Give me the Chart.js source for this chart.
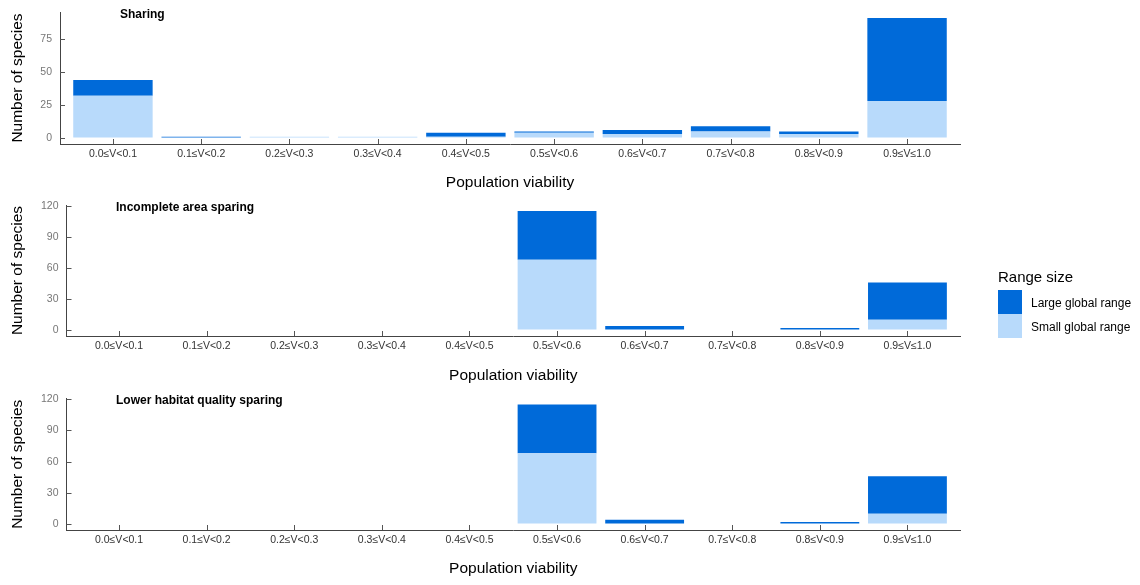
<!DOCTYPE html>
<html>
<head>
<meta charset="utf-8">
<script src="https://cdn.jsdelivr.net/npm/chart.js@4.4.1/dist/chart.umd.min.js"></script>
<style>
  html, body { margin: 0; padding: 0; background: #fff; }
  body { width: 1140px; height: 585px; position: relative; overflow: hidden;
         font-family: "Liberation Sans", Arial, sans-serif; }
  canvas { position: absolute; left: 0; }
  #legend { position: absolute; left: 0; top: 0; }
  #legend .lt { position: absolute; left: 998px; top: 268px; font-size: 15px; line-height: 18px; color: #000; white-space: nowrap; }
  #legend .key { position: absolute; left: 998px; width: 24px; height: 24px; }
  #legend .lab { position: absolute; left: 1031px; font-size: 12px; line-height: 24px; color: #000; white-space: nowrap; }
</style>
</head>
<body>
<canvas id="panel0" width="1140" height="193" style="top:0px"></canvas>
<canvas id="panel1" width="1140" height="195" style="top:193px"></canvas>
<canvas id="panel2" width="1140" height="197" style="top:388px"></canvas>
<div id="legend"></div>

<script>
// Population-viability classes shown along every x axis
const categories = ['0.0≤V<0.1', '0.1≤V<0.2', '0.2≤V<0.3', '0.3≤V<0.4', '0.4≤V<0.5',
                    '0.5≤V<0.6', '0.6≤V<0.7', '0.7≤V<0.8', '0.8≤V<0.9', '0.9≤V≤1.0'];

// Species counts per class, split by global range size
const sharingSmall    = [32, 0, 1, 1, 1, 4, 3, 5, 3, 28];
const sharingLarge    = [12, 1, 0, 0, 3, 1, 3, 4, 2, 63];
const incompleteSmall = [0, 0, 0, 0, 0, 68, 0, 0, 0, 10];
const incompleteLarge = [0, 0, 0, 0, 0, 47, 4, 0, 2, 36];
const lowerSmall      = [0, 0, 0, 0, 0, 68, 0, 0, 0, 10];
const lowerLarge      = [0, 0, 0, 0, 0, 47, 4, 0, 2, 36];

// y-axis tick labels
const sharingTicks = [0, 25, 50, 75];
const sparingTicks = [0, 30, 60, 90, 120];

const panelTitles = ['Sharing', 'Incomplete area sparing', 'Lower habitat quality sparing'];
const legendTitle = 'Range size';
const seriesNames = ['Small global range', 'Large global range'];
const xTitle = 'Population viability';
const yTitle = 'Number of species';

const COLORS = { small: '#b8dafb', large: '#006ad9' };
const FONT = '"Liberation Sans", Arial, sans-serif';

// per-panel canvas geometry
const panels = [
  { id: 'panel0', small: sharingSmall,    large: sharingLarge,    ticks: sharingTicks, padTop: 12,   xHeight: 49, yWidth: 60,   xTitlePad: 0.7, titleX: 120 },
  { id: 'panel1', small: incompleteSmall, large: incompleteLarge, ticks: sparingTicks, padTop: 12,   xHeight: 52, yWidth: 66.5, xTitlePad: 2.7, titleX: 116 },
  { id: 'panel2', small: lowerSmall,      large: lowerLarge,      ticks: sparingTicks, padTop: 10.5, xHeight: 55, yWidth: 66.5, xTitlePad: 6.7, titleX: 116 }
];

// bold panel title inside the top-left of the plotting area
const panelTitlePlugin = {
  id: 'panelTitle',
  afterDraw(chart, args, opts) {
    const { ctx, chartArea } = chart;
    ctx.save();
    ctx.font = 'bold 12px ' + FONT;
    ctx.fillStyle = '#000';
    ctx.textAlign = 'left';
    ctx.textBaseline = 'middle';
    ctx.fillText(opts.text, opts.x, chartArea.top + 2.5);
    ctx.restore();
  }
};

// short tick marks pointing into the plotting area
const innerTicksPlugin = {
  id: 'innerTicks',
  afterDraw(chart) {
    const { ctx, chartArea, scales } = chart;
    const len = 5;
    ctx.save();
    ctx.strokeStyle = '#555';
    ctx.lineWidth = 1;
    ctx.beginPath();
    scales.x.ticks.forEach(t => {
      const px = Math.round(scales.x.getPixelForValue(t.value)) + 0.5;
      ctx.moveTo(px, chartArea.bottom);
      ctx.lineTo(px, chartArea.bottom - len);
    });
    scales.y.ticks.forEach(t => {
      const py = Math.round(scales.y.getPixelForValue(t.value)) + 0.5;
      ctx.moveTo(chartArea.left, py);
      ctx.lineTo(chartArea.left + len, py);
    });
    ctx.stroke();
    ctx.restore();
  }
};

// keep tick-label overhang from shrinking the plotting area
const noOverhang = s => {
  s.paddingTop = 0; s.paddingBottom = 0; s.paddingLeft = 0; s.paddingRight = 0;
};

panels.forEach((p, k) => {
  const totals = p.small.map((v, i) => v + p.large[i]);
  const peak = Math.max(...totals);
  const toPoints = arr => arr.map((v, i) => ({ x: i, y: v }));

  new Chart(document.getElementById(p.id), {
    type: 'bar',
    data: {
      datasets: [
        { label: seriesNames[0], data: toPoints(p.small), backgroundColor: COLORS.small,
          borderWidth: 0, categoryPercentage: 1, barPercentage: 0.9 },
        { label: seriesNames[1], data: toPoints(p.large), backgroundColor: COLORS.large,
          borderWidth: 0, categoryPercentage: 1, barPercentage: 0.9 }
      ]
    },
    options: {
      responsive: false,
      animation: false,
      layout: { padding: { top: p.padTop, right: 180, bottom: 0, left: 0 } },
      plugins: {
        legend: { display: false },
        tooltip: { enabled: false },
        panelTitle: { text: panelTitles[k], x: p.titleX }
      },
      scales: {
        x: {
          type: 'linear',
          stacked: true,
          offset: false,
          min: -0.6,
          max: 9.6,
          afterBuildTicks: s => { s.ticks = categories.map((c, i) => ({ value: i })); },
          afterFit: s => { s.height = p.xHeight; noOverhang(s); },
          ticks: {
            callback: v => categories[v],
            autoSkip: false, maxRotation: 0, minRotation: 0,
            padding: 4,
            color: '#333',
            font: { family: FONT, size: 10.5 }
          },
          grid: { offset: false, drawOnChartArea: false, drawTicks: false },
          border: { display: true, color: '#444', width: 1 },
          title: { display: true, text: xTitle, color: '#000',
                   font: { family: FONT, size: 15.5 }, padding: { top: 0, bottom: p.xTitlePad } }
        },
        y: {
          stacked: true,
          min: -0.05 * peak,
          max: 1.05 * peak,
          afterBuildTicks: s => { s.ticks = p.ticks.map(v => ({ value: v })); },
          afterFit: s => { s.width = p.yWidth; noOverhang(s); },
          ticks: {
            padding: 8,
            color: '#777',
            font: { family: FONT, size: 10.5 }
          },
          grid: { drawOnChartArea: false, drawTicks: false },
          border: { display: true, color: '#444', width: 1 },
          title: { display: true, text: yTitle, color: '#000',
                   font: { family: FONT, size: 15.5 }, padding: { top: 8, bottom: 0 } }
        }
      }
    },
    plugins: [panelTitlePlugin, innerTicksPlugin]
  });
});

// legend for the range-size fill colours
(function buildLegend() {
  const box = document.getElementById('legend');
  const t = document.createElement('div');
  t.className = 'lt';
  t.textContent = legendTitle;
  box.appendChild(t);
  const entries = [
    { name: seriesNames[1], color: COLORS.large, top: 290 },
    { name: seriesNames[0], color: COLORS.small, top: 314 }
  ];
  entries.forEach(e => {
    const key = document.createElement('div');
    key.className = 'key';
    key.style.top = e.top + 'px';
    key.style.background = e.color;
    box.appendChild(key);
    const lab = document.createElement('div');
    lab.className = 'lab';
    lab.style.top = (e.top + 1) + 'px';
    lab.textContent = e.name;
    box.appendChild(lab);
  });
})();
</script>
</body>
</html>
